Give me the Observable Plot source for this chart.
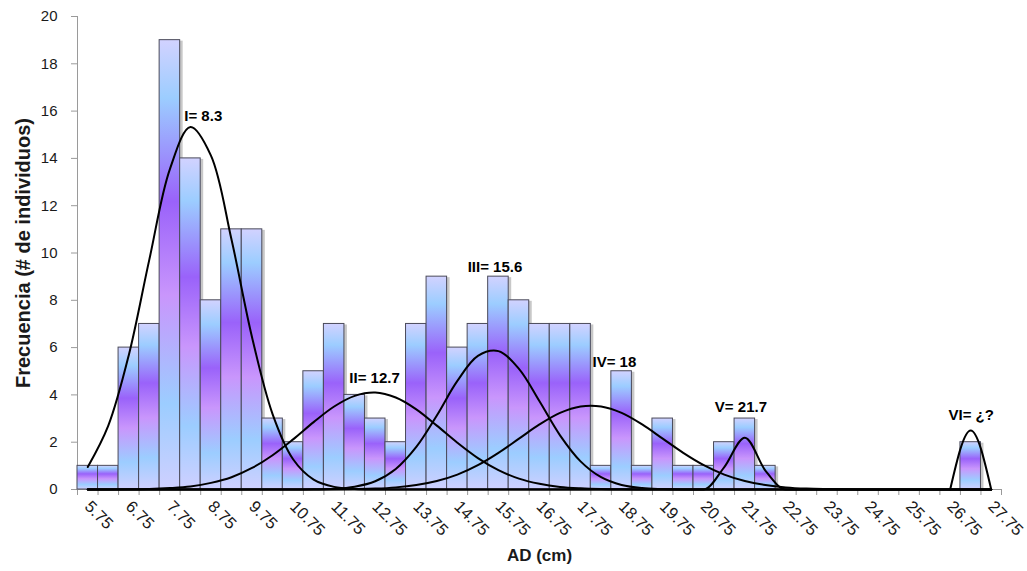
<!DOCTYPE html>
<html>
<head>
<meta charset="utf-8">
<script src="https://cdn.jsdelivr.net/npm/d3@7"></script>
<script src="https://cdn.jsdelivr.net/npm/@observablehq/plot@0.6"></script>
<style>
  html, body { margin: 0; padding: 0; background: #ffffff; }
</style>
</head>
<body>
<div id="chart"></div>
<script>
// Size classes of AD (cm), each 0.5 cm wide, labelled by class mark
const categories = [
  5.75, 6.25, 6.75, 7.25, 7.75, 8.25, 8.75, 9.25, 9.75, 10.25,
  10.75, 11.25, 11.75, 12.25, 12.75, 13.25, 13.75, 14.25, 14.75, 15.25,
  15.75, 16.25, 16.75, 17.25, 17.75, 18.25, 18.75, 19.25, 19.75, 20.25,
  20.75, 21.25, 21.75, 22.25, 22.75, 23.25, 23.75, 24.25, 24.75, 25.25,
  25.75, 26.25, 26.75, 27.25, 27.75
];

// Number of individuals per class
const counts = [
  1, 1, 6, 7, 19, 14, 8, 11, 11, 3,
  2, 5, 7, 4, 3, 2, 7, 9, 6, 7,
  9, 8, 7, 7, 7, 1, 5, 1, 3, 1,
  1, 2, 3, 1, 0, 0, 0, 0, 0, 0,
  0, 0, 0, 2, 0
];

// Fitted cohort curves, evaluated at each class mark
const cohortI = [
  0.95, 2.70, 5.69, 9.73, 13.55, 15.33, 14.12, 10.57, 6.44, 3.19,
  1.28, 0.42, 0.11, 0.02, 0, 0, 0, 0, 0, 0,
  0, 0, 0, 0, 0, 0, 0, 0, 0, 0,
  0, 0, 0, 0, 0, 0, 0, 0, 0, 0,
  0, 0, 0, 0, 0
];
const cohortII = [
  0, 0, 0.01, 0.02, 0.06, 0.13, 0.28, 0.52, 0.91, 1.45,
  2.12, 2.85, 3.51, 3.96, 4.10, 3.89, 3.39, 2.70, 1.98, 1.33,
  0.82, 0.46, 0.24, 0.11, 0.05, 0.02, 0.01, 0, 0, 0,
  0, 0, 0, 0, 0, 0, 0, 0, 0, 0,
  0, 0, 0, 0, 0
];
const cohortIII = [
  0, 0, 0, 0, 0, 0, 0, 0, 0, 0,
  0, 0.01, 0.03, 0.12, 0.35, 0.87, 1.80, 3.13, 4.59, 5.65,
  5.85, 5.10, 3.73, 2.29, 1.19, 0.52, 0.19, 0.06, 0.02, 0,
  0, 0, 0, 0, 0, 0, 0, 0, 0, 0,
  0, 0, 0, 0, 0
];
const cohortIV = [
  0, 0, 0, 0, 0, 0, 0, 0, 0, 0,
  0, 0, 0.01, 0.02, 0.04, 0.09, 0.19, 0.36, 0.63, 1.03,
  1.55, 2.15, 2.75, 3.24, 3.51, 3.51, 3.24, 2.75, 2.15, 1.55,
  1.03, 0.63, 0.36, 0.19, 0.09, 0.04, 0.02, 0.01, 0, 0,
  0, 0, 0, 0, 0
];
const cohortV = [
  0, 0, 0, 0, 0, 0, 0, 0, 0, 0,
  0, 0, 0, 0, 0, 0, 0, 0, 0, 0,
  0, 0, 0, 0, 0, 0, 0, 0, 0, 0,
  0, 0.95, 2.19, 0.80, 0, 0, 0, 0, 0, 0,
  0, 0, 0, 0, 0
];
// Cohort VI only spans the last three classes
const cohortVI = [
  null, null, null, null, null, null, null, null, null, null,
  null, null, null, null, null, null, null, null, null, null,
  null, null, null, null, null, null, null, null, null, null,
  null, null, null, null, null, null, null, null, null, null,
  null, null, 0, 2.5, 0
];

// Cohort labels
const cohortLabels = ["I= 8.3", "II= 12.7", "III= 15.6", "IV= 18", "V= 21.7", "VI= ¿?"];

// Labelled class marks on the x axis
const tickLabels = [
  "5.75", "6.75", "7.75", "8.75", "9.75", "10.75", "11.75", "12.75",
  "13.75", "14.75", "15.75", "16.75", "17.75", "18.75", "19.75", "20.75",
  "21.75", "22.75", "23.75", "24.75", "25.75", "26.75", "27.75"
];

// Frequency ticks
const yTicks = [0, 2, 4, 6, 8, 10, 12, 14, 16, 18, 20];

// ---- derived tables ----
const halfBin = 0.25;
const bins = categories.map((c, i) => ({c, n: counts[i]})).filter(d => d.n > 0);
const edges = [categories[0] - halfBin, ...categories.map(c => c + halfBin)];
const toSeries = vals => categories.map((c, i) => ({c, v: vals[i]})).filter(d => d.v != null);

// label anchors (cm, frequency) next to each cohort peak
const labelAt = [[8.1, 15.8], [12.12, 4.7], [15.0, 9.4], [18.04, 5.4], [21.02, 3.47], [26.71, 3.13]];
const notes = cohortLabels.map((t, i) => ({t, x: labelAt[i][0], y: labelAt[i][1]}));

const axisGray = "#9a9a9a";
const ink = "#1a1a1a";

const smoothWide = [cohortI, cohortII, cohortIII, cohortIV];
const smoothNarrow = [cohortV, cohortVI];

const svg = Plot.plot({
  width: 1027,
  height: 571,
  marginLeft: 77,
  marginRight: 26,
  marginTop: 16,
  marginBottom: 82,
  style: {
    fontFamily: "'Liberation Sans', Arial, sans-serif",
    fontSize: "15px",
    background: "#ffffff",
    color: ink,
    overflow: "visible"
  },
  x: {type: "linear", domain: [edges[0], edges[edges.length - 1]]},
  y: {domain: [0, 20]},
  marks: [
    // frame lines
    Plot.ruleX([edges[0]], {stroke: axisGray}),
    Plot.ruleY([0], {stroke: axisGray}),
    // y axis
    Plot.axisY({
      ticks: yTicks, tickSize: 6, tickPadding: 14, stroke: axisGray,
      fill: ink, fontSize: 15, label: null
    }),
    // x axis ticks at class boundaries
    Plot.axisX({
      ticks: edges, tickSize: 6, stroke: axisGray,
      tickFormat: () => "", label: null
    }),
    // x tick labels, rotated
    Plot.text(tickLabels, {
      x: d => +d, text: d => d, frameAnchor: "bottom",
      rotate: 45, textAnchor: "start", dy: 18, dx: -4,
      fontSize: 16.5, fill: ink
    }),
    // bar shadows
    Plot.rectY(bins, {
      x1: d => d.c - halfBin, x2: d => d.c + halfBin, y: "n",
      fill: "#c8c8c8", dx: 3, insetTop: 1
    }),
    // histogram bars
    Plot.rectY(bins, {
      x1: d => d.c - halfBin, x2: d => d.c + halfBin, y: "n",
      fill: "url(#barGradient)", stroke: "#4a4a5a", strokeWidth: 1
    }),
    // cohort curves
    ...smoothWide.map(vals => Plot.line(toSeries(vals), {
      x: "c", y: "v", curve: "catmull-rom", stroke: "#000", strokeWidth: 2
    })),
    ...smoothNarrow.map(vals => Plot.line(toSeries(vals), {
      x: "c", y: "v", curve: "monotone-x", stroke: "#000", strokeWidth: 2
    })),
    // cohort labels
    Plot.text(notes, {
      x: "x", y: "y", text: "t", textAnchor: "start",
      fontWeight: "bold", fontSize: 15, fill: "#000"
    }),
    // axis titles
    Plot.text(["Frecuencia (# de individuos)"], {
      frameAnchor: "left", textAnchor: "middle", dx: -54, rotate: -90,
      fontWeight: "bold", fontSize: 20, fill: ink
    }),
    Plot.text(["AD (cm)"], {
      frameAnchor: "bottom", textAnchor: "middle", dy: 71,
      fontWeight: "bold", fontSize: 17, fill: ink
    })
  ]
});

// vertical colour band used to fill every bar
const ns = "http://www.w3.org/2000/svg";
const defs = document.createElementNS(ns, "defs");
const grad = document.createElementNS(ns, "linearGradient");
grad.setAttribute("id", "barGradient");
grad.setAttribute("x1", "0"); grad.setAttribute("y1", "0");
grad.setAttribute("x2", "0"); grad.setAttribute("y2", "1");
[
  [0, "#d2d2ff"],
  [0.13, "#9ccdff"],
  [0.36, "#9a62fa"],
  [0.57, "#c996fc"],
  [0.81, "#9ccdff"],
  [1, "#cfd0ff"]
].forEach(([o, c]) => {
  const s = document.createElementNS(ns, "stop");
  s.setAttribute("offset", o);
  s.setAttribute("stop-color", c);
  grad.appendChild(s);
});
defs.appendChild(grad);
svg.insertBefore(defs, svg.firstChild);

document.getElementById("chart").appendChild(svg);
</script>
</body>
</html>
